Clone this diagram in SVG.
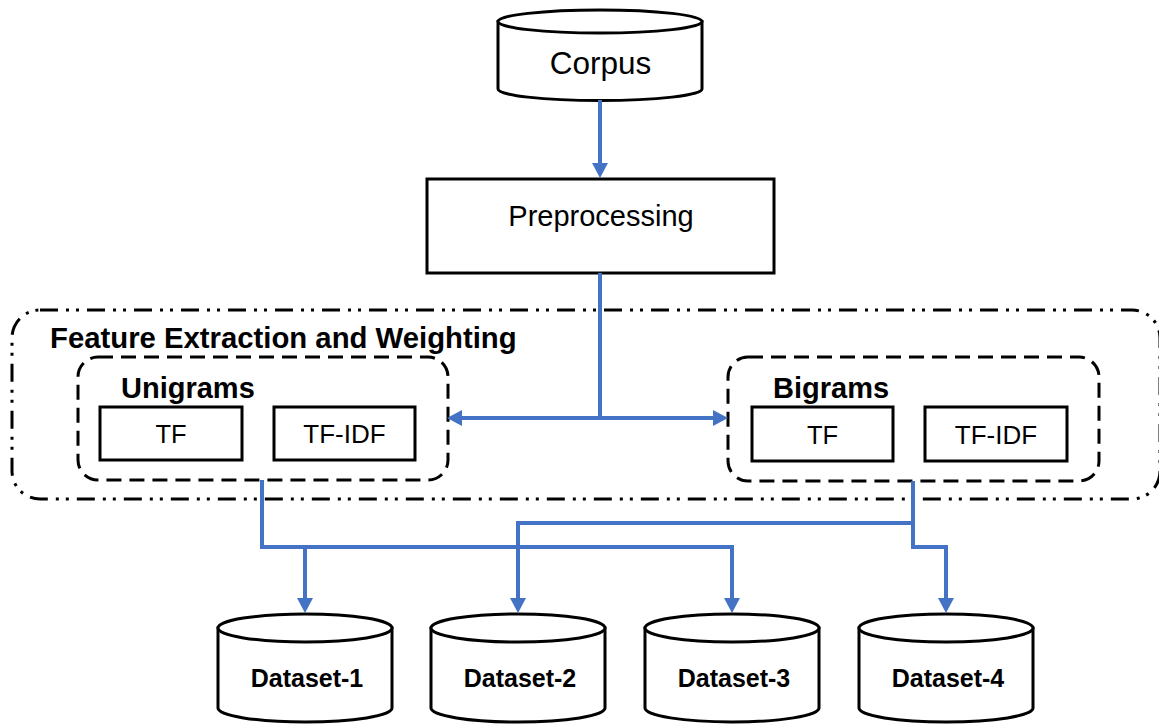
<svg xmlns="http://www.w3.org/2000/svg" width="1159" height="724" viewBox="0 0 1159 724">
  <style>
    .box { fill: #ffffff; stroke: #000000; stroke-width: 3; }
    .group-outer { fill: none; stroke: #000000; stroke-width: 3; stroke-dasharray: 18 8 3 7 3 8; }
    .group-inner { fill: none; stroke: #000000; stroke-width: 3; stroke-dasharray: 15 8; }
    .link { fill: none; stroke: #4472C4; stroke-width: 4; }
    .t { font-family: "Liberation Sans", Arial, sans-serif; fill: #000000; text-anchor: middle; }
    .l { text-anchor: start; }
    .b { font-weight: bold; }
  </style>
  <defs>
    <marker id="arrow" markerUnits="userSpaceOnUse" markerWidth="16" markerHeight="16" refX="5" refY="8" orient="auto">
      <path d="M0,0 L15,8 L0,16 Z" fill="#4472C4"/>
    </marker>
  </defs>

  <rect width="1159" height="724" fill="#ffffff"/>

  <!-- Feature extraction container -->
  <g id="feature-extraction">
    <rect class="group-outer" x="12" y="310" width="1148" height="189" rx="28" ry="28"/>
    <text class="t l b" x="50" y="348" font-size="29.3">Feature Extraction and Weighting</text>
  </g>

  <!-- Corpus -->
  <g id="corpus">
    <path class="box" d="M498,21.5 V89 A102,11.5 0 0 0 702,89 V21.5 Z"/>
    <ellipse class="box" cx="600" cy="21.5" rx="102" ry="11.5"/>
    <text class="t" x="600.5" y="74" font-size="31.5">Corpus</text>
  </g>

  <!-- Preprocessing -->
  <g id="preprocessing">
    <rect class="box" x="427" y="179" width="347" height="94"/>
    <text class="t" x="601" y="226" font-size="29">Preprocessing</text>
  </g>

  <!-- Unigrams -->
  <g id="unigrams">
    <rect class="group-inner" x="78" y="357" width="370" height="123" rx="20" ry="20"/>
    <text class="t l b" x="121" y="398" font-size="29">Unigrams</text>
    <g id="uni-tf">
      <rect class="box" x="100" y="407" width="142" height="53"/>
      <text class="t" x="171" y="443" font-size="25.5">TF</text>
    </g>
    <g id="uni-tfidf">
      <rect class="box" x="274" y="407" width="141" height="53"/>
      <text class="t" x="344.5" y="443" font-size="26">TF-IDF</text>
    </g>
  </g>

  <!-- Bigrams -->
  <g id="bigrams">
    <rect class="group-inner" x="728" y="357" width="371" height="124" rx="20" ry="20"/>
    <text class="t l b" x="773" y="398" font-size="29">Bigrams</text>
    <g id="bi-tf">
      <rect class="box" x="752" y="407" width="141" height="54"/>
      <text class="t" x="822.5" y="444" font-size="25.5">TF</text>
    </g>
    <g id="bi-tfidf">
      <rect class="box" x="925" y="407" width="142" height="54"/>
      <text class="t" x="996" y="444" font-size="26">TF-IDF</text>
    </g>
  </g>

  <!-- Datasets -->
  <g id="dataset-1">
    <path class="box" d="M218,628 V708 A87,14 0 0 0 392,708 V628 Z"/>
    <ellipse class="box" cx="305" cy="628" rx="87" ry="14"/>
    <text class="t b" x="307" y="687" font-size="25">Dataset-1</text>
  </g>
  <g id="dataset-2">
    <path class="box" d="M431,628 V708 A87,14 0 0 0 605,708 V628 Z"/>
    <ellipse class="box" cx="518" cy="628" rx="87" ry="14"/>
    <text class="t b" x="520" y="687" font-size="25">Dataset-2</text>
  </g>
  <g id="dataset-3">
    <path class="box" d="M645,628 V708 A87,14 0 0 0 819,708 V628 Z"/>
    <ellipse class="box" cx="732" cy="628" rx="87" ry="14"/>
    <text class="t b" x="734" y="687" font-size="25">Dataset-3</text>
  </g>
  <g id="dataset-4">
    <path class="box" d="M859,628 V708 A87,14 0 0 0 1033,708 V628 Z"/>
    <ellipse class="box" cx="946" cy="628" rx="87" ry="14"/>
    <text class="t b" x="948" y="687" font-size="25">Dataset-4</text>
  </g>

  <!-- Connectors -->
  <g id="connectors">
    <path class="link" d="M600,100 V168" marker-end="url(#arrow)"/>
    <path class="link" d="M600,273 V418"/>
    <path class="link" d="M602,418 H457" marker-end="url(#arrow)"/>
    <path class="link" d="M598,418 H718" marker-end="url(#arrow)"/>
    <path class="link" d="M262,480 V547 H732 V603" marker-end="url(#arrow)"/>
    <path class="link" d="M305,547 V603" marker-end="url(#arrow)"/>
    <path class="link" d="M913,481 V547 H946 V603" marker-end="url(#arrow)"/>
    <path class="link" d="M913,523 H518 V603" marker-end="url(#arrow)"/>
  </g>
</svg>
